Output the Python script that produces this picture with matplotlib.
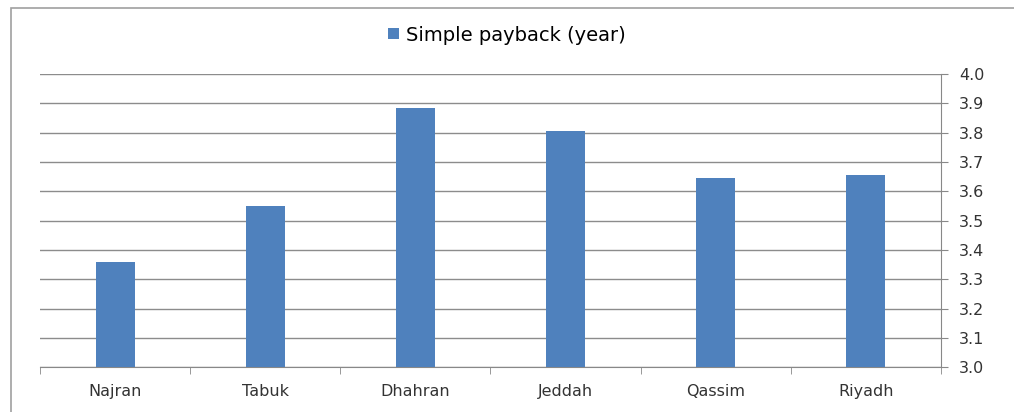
import numpy as np
import matplotlib.pyplot as plt
from matplotlib.patches import Rectangle

# Datos
ciudades = ["Najran", "Tabuk", "Dhahran", "Jeddah", "Qassim", "Riyadh"]
payback = [3.36, 3.55, 3.885, 3.805, 3.645, 3.655]
ticks_y = [3.0, 3.1, 3.2, 3.3, 3.4, 3.5, 3.6, 3.7, 3.8, 3.9, 4.0]

plt.rcParams['font.family'] = 'sans-serif'
plt.rcParams['font.sans-serif'] = ['DejaVu Sans']

fig = plt.figure(figsize=(10.14, 4.12), dpi=100)
ax = fig.add_axes([0.0394, 0.109, 0.8886, 0.711])

x = np.arange(len(ciudades))
ax.bar(x, payback, width=0.26, color='#4F81BD', zorder=3,
       label='Simple payback (year)')

ax.set_xlim(-0.5, len(ciudades) - 0.5)
ax.set_ylim(3.0, 4.0)

# Eje Y a la derecha
ax.yaxis.tick_right()
ax.set_yticks(ticks_y)
ax.set_yticklabels([f"{t:.1f}" for t in ticks_y], fontsize=11.5, color='#333333')
ax.tick_params(axis='y', length=5, color='#888888', pad=8)
ax.grid(axis='y', color='#8c8c8c', linewidth=1, zorder=0)

# Eje X: marcas entre categorías
ax.set_xticks(x)
ax.set_xticklabels(ciudades, fontsize=11.5, color='#333333')
ax.set_xticks(np.arange(-0.5, len(ciudades)), minor=True)
ax.tick_params(axis='x', which='major', length=0, pad=12)
ax.tick_params(axis='x', which='minor', length=5, color='#888888')

for s in ['top', 'left']:
    ax.spines[s].set_visible(False)
ax.spines['bottom'].set_color('#888888')
ax.spines['right'].set_color('#888888')

leg = fig.legend(loc='center', bbox_to_anchor=(0.5, 0.915), frameon=False,
                 fontsize=14, handlelength=0.55, handleheight=0.55,
                 handletextpad=0.35)

# Borde del gráfico (solo se ven el lado superior e izquierdo)
fig.patches.append(Rectangle((0.011, -0.05), 1.05, 1.03, transform=fig.transFigure,
                             fill=False, edgecolor='#a0a0a0', linewidth=1.2))

fig.savefig("out.png", dpi=100)
